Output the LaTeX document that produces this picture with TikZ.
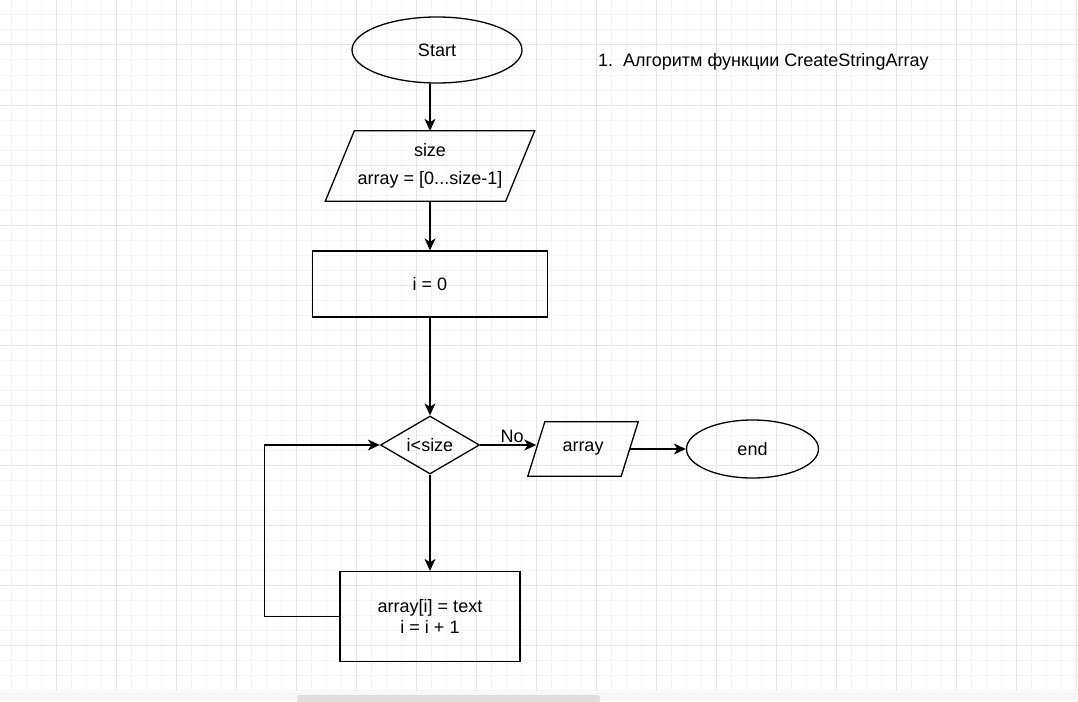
\documentclass[tikz,border=0pt]{standalone}
\usepackage{fontspec}
\setmainfont{Liberation Sans}
\usepackage{xcolor}
\usetikzlibrary{shapes.geometric}
\usetikzlibrary{arrows.meta}
\definecolor{minorgrid}{RGB}{244,244,244}
\definecolor{majorgrid}{RGB}{229,229,229}
\definecolor{barfill}{RGB}{247,247,247}
\definecolor{thumbfill}{RGB}{222,222,222}
% parallelogram round a named node: #1 node, #2 slant offset
\newcommand{\ioframe}[2]{%
    \draw[line width=1.3pt, line join=miter]
        ([xshift=#2pt]#1.north west) -- ([xshift=#2pt]#1.north east)
        -- ([xshift=-#2pt]#1.south east) -- ([xshift=-#2pt]#1.south west) -- cycle;}

\begin{document}
\begin{tikzpicture}[x=1pt, y=-1pt,
    every node/.style={font=\fontsize{18}{21.6}\selectfont},
    box/.style={draw, line width=1.3pt, align=center, inner sep=0pt},
    term/.style={box, ellipse},
    proc/.style={box, rectangle},
    io/.style={rectangle, align=center, inner sep=0pt},
    decision/.style={box, diamond, aspect=1.7},
    flow/.style={line width=1.3pt, -{Stealth[length=12pt, width=11pt, inset=3.5pt]}}]
                \useasboundingbox (0, 0) rectangle (1078, 701);
                \fill[white] (0, 0) rectangle (1078, 701);
                % background grid
                \foreach \x in {11, 26, ..., 1076}
                    \draw[minorgrid, line width=1pt] (\x, 0) -- (\x, 691);
                \foreach \y in {0, 15, ..., 690}
                    \draw[minorgrid, line width=1pt] (0, \y) -- (1078, \y);
                \foreach \x in {56, 116, ..., 1076}
                    \draw[majorgrid, line width=1pt] (\x, 0) -- (\x, 691);
                \foreach \y in {45, 105, ..., 690}
                    \draw[majorgrid, line width=1pt] (0, \y) -- (1078, \y);
                \fill[barfill] (0, 691.5) rectangle (1078, 701);
                \fill[thumbfill, rounded corners=3pt] (297, 695) rectangle (600, 703);

                \node[term, minimum width=170pt, minimum height=66pt] (start) at (437, 50) {Start};
                \node[io, minimum width=180pt, minimum height=70pt] (input) at (430, 166)
                      {\rule{0pt}{6pt}size\\[6pt] array = [0...size-1]};
                \ioframe{input}{14.5}
                \node[proc, minimum width=235pt, minimum height=66pt] (init) at (430, 284) {i = 0};
                \node[decision, minimum width=99pt, minimum height=58pt] (cond) at (430, 445) {i<size};
                \node[proc, minimum width=180pt, minimum height=90pt] (body) at (430, 616.5)
                      {array[i] = text\\ i = i + 1};
                \node[io, minimum width=93pt, minimum height=54pt] (output) at (583, 449) {array};
                \ioframe{output}{8.5}
                \node[term, minimum width=132pt, minimum height=58pt] (stop) at (752.5, 449) {end};
                \node[anchor=base west, inner sep=0pt] (title) at (598, 66.7) {1.\hspace{10pt}Алгоритм функции CreateStringArray};

                \draw[flow] (start.south -| input.north) -- (input.north);
                \draw[flow] (input.south) -- (init.north);
                \draw[flow] (init.south) -- (cond.north);
                \draw[flow] (cond.south) -- (body.north);
                \draw[flow] (body.west) -- ++(-75, 0) |- (cond.west);
                \draw[flow] (cond.east) -- node[pos=0.57, above, inner sep=2pt] {No} (cond.east -| output.west);
                \draw[flow] (output.east) -- (stop.west);
            \end{tikzpicture}
\end{document}
